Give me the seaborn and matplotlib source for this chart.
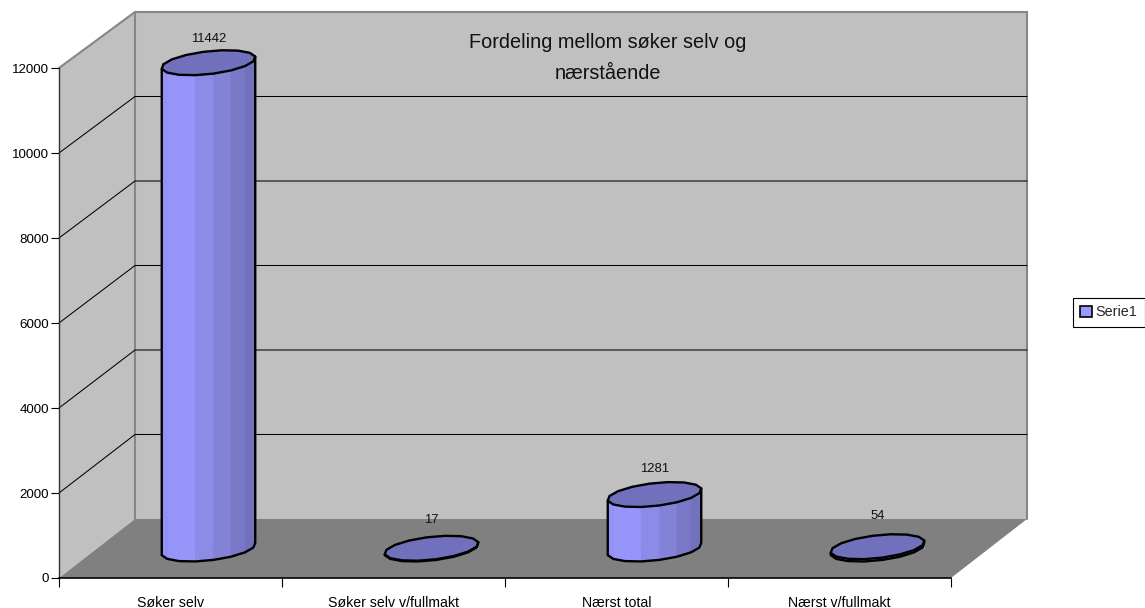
import numpy as np
import pandas as pd
import matplotlib
matplotlib.use("Agg")
import matplotlib.pyplot as plt
from matplotlib.colors import LinearSegmentedColormap
from matplotlib.patches import Patch
from matplotlib.transforms import Affine2D
import seaborn as sns

categories = ["Søker selv", "Søker selv v/fullmakt", "Nærst total", "Nærst v/fullmakt"]
values = [11442, 17, 1281, 54]
series_name = "Serie1"
y_ticks = [0, 2000, 4000, 6000, 8000, 10000, 12000]
title = "Fordeling mellom søker selv og\nnærstående"

W, H = 1145, 608
AX_L, AX_R, AX_B, AX_T = 59, 951, 578, 68   # plot front plane, in pixels

sns.set_theme(style="white")
plt.rcParams["font.family"] = ["Liberation Sans", "DejaVu Sans"]

fig = plt.figure(figsize=(W / 100, H / 100), dpi=100, facecolor="white")
ax = fig.add_axes([AX_L / W, 1 - AX_B / H, (AX_R - AX_L) / W, (AX_B - AX_T) / H])
ax.patch.set_visible(False)

df = pd.DataFrame({"kategori": categories, "antall": values})
sns.barplot(data=df, x="kategori", y="antall", ax=ax, width=94 / 223,
            color="#8888DD", saturation=1, linewidth=0, zorder=1)
ax.set_xlim(-0.5, 3.5)
ax.set_ylim(0, 12000)
ax.set_xlabel("")
ax.set_ylabel("")

# Conversion from pixels to data units for the oblique projection
px_x = 4 / (AX_R - AX_L)
px_y = 12000 / (AX_B - AX_T)
depth_x = 76 * px_x
depth_y = 59 * px_y
back_scale = 507 / 510

x0, x1 = -0.5, 3.5
ymax = 12000
back = lambda v: v * back_scale + depth_y

WALL, FLOOR, EDGE = "#C0C0C0", "#808080", "#868686"
ax.fill([x0 + depth_x, x1 + depth_x, x1 + depth_x, x0 + depth_x],
        [back(0), back(0), back(ymax), back(ymax)],
        color=WALL, lw=0, zorder=0.1, clip_on=False)
ax.fill([x0, x0 + depth_x, x0 + depth_x, x0],
        [0, back(0), back(ymax), ymax],
        color=WALL, lw=0, zorder=0.1, clip_on=False)
ax.fill([x0, x0 + depth_x, x1 + depth_x, x1],
        [0, back(0), back(0), 0],
        color=FLOOR, lw=0, zorder=0.2, clip_on=False)

# Wall outline
ax.plot([x0, x0 + depth_x, x1 + depth_x, x1 + depth_x],
        [ymax, back(ymax), back(ymax), back(0)],
        color=EDGE, lw=1.5, zorder=0.5, clip_on=False, solid_joinstyle="miter")
ax.plot([x0 + depth_x, x0 + depth_x], [back(ymax), back(0)],
        color=EDGE, lw=1.5, zorder=0.5, clip_on=False)

# Gridlines run up the side wall and across the back wall
for v in y_ticks[1:-1]:
    ax.plot([x0, x0 + depth_x, x1 + depth_x], [v, back(v), back(v)],
            color="black", lw=0.75, zorder=0.6, clip_on=False)

# Cylinders: each seaborn bar is moved to mid depth and faceted
shade = LinearSegmentedColormap.from_list(
    "cyl", [(0, "#9090F4"), (0.22, "#9999FF"), (0.5, "#8A8AE4"), (1, "#6E6EB6")])
TOP_COLOR = "#7070BC"
mid_x, mid_y = 38 * px_x, 29 * px_y
semi_b = 11.5 * px_y
skew = 5 * px_y
angles = np.radians(np.linspace(180, 360, 9) + 6)
ring = np.radians(np.arange(0, 360, 22.5) + 6)
shift = Affine2D().translate(38, 29)
label_pad = [24, 28, 26, 31]

for bar, val, pad in zip(ax.patches, values, label_pad):
    bar.set_transform(ax.transData + shift)
    bar.set_clip_on(False)
    semi_a = bar.get_width() / 2
    cx = bar.get_x() + semi_a + mid_x
    cy = mid_y

    ex = lambda t: cx + semi_a * np.cos(t)
    ey = lambda t: cy + skew * np.cos(t) + semi_b * np.sin(t)

    fx, fy = ex(angles), ey(angles)
    for i in range(len(angles) - 1):
        xs = [fx[i], fx[i + 1], fx[i + 1], fx[i]]
        ys = [fy[i], fy[i + 1], fy[i + 1] + val, fy[i] + val]
        frac = ((fx[i] + fx[i + 1]) / 2 - (cx - semi_a)) / (2 * semi_a)
        ax.fill(xs, ys, color=shade(frac), lw=0.3, zorder=3, clip_on=False)

    # Silhouette of the body
    ax.plot(np.r_[fx[0], fx, fx[-1]], np.r_[fy[0] + val, fy, fy[-1] + val],
            color="black", lw=1.7, zorder=3.5, clip_on=False, solid_joinstyle="round")

    # Top cap
    ax.fill(ex(ring), ey(ring) + val, facecolor=TOP_COLOR, edgecolor="black",
            lw=1.7, zorder=4, clip_on=False, joinstyle="round")

    ax.annotate(str(val), (cx, cy + val), xytext=(0, pad * 0.72),
                textcoords="offset points", ha="center", va="center",
                fontsize=9.4, color="#111111", zorder=5, annotation_clip=False)

# Axes
for side in ("top", "right"):
    ax.spines[side].set_visible(False)
ax.spines["left"].set_color("#333333")
ax.spines["left"].set_linewidth(1.0)
ax.spines["bottom"].set_color("black")
ax.spines["bottom"].set_linewidth(1.2)
ax.spines["left"].set_zorder(2.5)
ax.spines["bottom"].set_zorder(2.5)

ax.set_yticks(y_ticks)
ax.set_yticklabels([str(v) for v in y_ticks])
ax.set_xticks(np.arange(-0.5, 4, 1))
ax.set_xticklabels([""] * 5)
ax.set_xticks(range(4), labels=categories, minor=True)
ax.tick_params(axis="y", which="major", left=True, length=5.8, width=0.8, color="black",
               labelsize=9.6, pad=1.6, labelcolor="black")
ax.tick_params(axis="x", which="major", bottom=True, length=6.5, width=0.8, color="black")
ax.tick_params(axis="x", which="minor", bottom=False, labelsize=10.2, pad=9,
               labelcolor="black")

fig.text(608 / W, 1 - 58 / H, title, ha="center", va="center", fontsize=14.3,
         color="#111111", linespacing=1.8)

handle = Patch(facecolor="#9999FF", edgecolor="black", linewidth=1.2)
leg = fig.legend([handle], [series_name], loc="center left",
                 bbox_to_anchor=(1072.5 / W, 1 - 312.5 / H),
                 fontsize=10.4, frameon=True, fancybox=False, edgecolor="black",
                 framealpha=1, handlelength=0.8, handleheight=0.8,
                 handletextpad=0.25, borderpad=0.55, borderaxespad=0)
leg.get_frame().set_linewidth(0.8)

fig.savefig("out.png", dpi=100, facecolor="white")
